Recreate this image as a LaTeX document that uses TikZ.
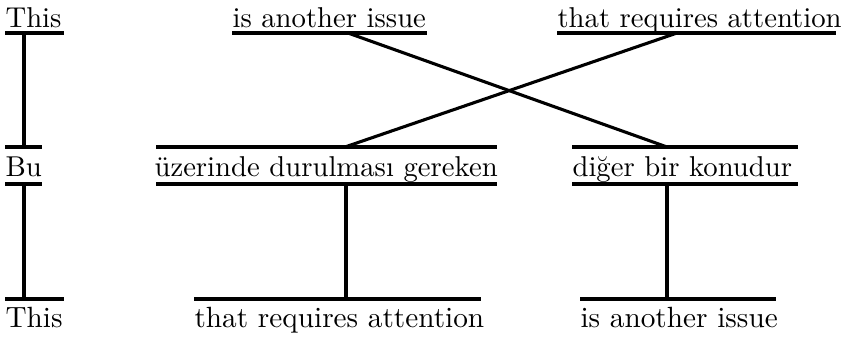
\documentclass[tikz,border=0pt]{standalone}
\usepackage{fontspec}
\begin{document}
\begin{tikzpicture}[x=0.3555pt,y=-0.3555pt,
  lbl/.style={anchor=base west, inner sep=0pt, font=\fontsize{10.2}{12}\selectfont},
  lblb/.style={lbl, font=\fontsize{10.4}{12}\selectfont},
  bar/.style={line width=1.1pt},
  link/.style={line width=1.1pt}]
\useasboundingbox (0,0) rectangle (841,338);
% labels
\node[lbl] (t1) at (5,27) {This};
\node[lbl] (t2) at (232,27) {is another issue};
\node[lbl] (t3) at (557,27) {that requires attention};
\node[lbl] (m1) at (5,176) {Bu};
\node[lbl] (m2) at (154,176) {üzerinde durulması gereken};
\node[lbl] (m3) at (572,176) {diğer bir konudur};
\node[lblb] (b1) at (5,327) {This};
\node[lblb] (b2) at (194,327) {that requires attention};
\node[lblb] (b3) at (580,327) {is another issue};
% bars
\draw[bar] (5,33) -- (64,33);
\draw[bar] (232,33) -- (427,33);
\draw[bar] (557,33) -- (836,33);
\draw[bar] (5,147) -- (42,147);
\draw[bar] (5,184) -- (42,184);
\draw[bar] (156,147) -- (497,147);
\draw[bar] (156,184) -- (497,184);
\draw[bar] (572,147) -- (798,147);
\draw[bar] (572,184) -- (798,184);
\draw[bar] (5,299) -- (64,299);
\draw[bar] (194,299) -- (481,299);
\draw[bar] (580,299) -- (776,299);
% attachment points
\coordinate (t1a) at (24,33);
\coordinate (t2a) at (348,33);
\coordinate (t3a) at (677,33);
\coordinate (m1t) at (24,147);
\coordinate (m1b) at (24,184);
\coordinate (m2t) at (345,147);
\coordinate (m2b) at (346,184);
\coordinate (m3t) at (667,147);
\coordinate (m3b) at (667,184);
\coordinate (b1a) at (24,299);
\coordinate (b2a) at (346,299);
\coordinate (b3a) at (667,299);
% connectors
\draw[link] (t1a) -- (m1t);
\draw[link] (t2a) -- (m3t);
\draw[link] (t3a) -- (m2t);
\draw[link] (m1b) -- (b1a);
\draw[link] (m2b) -- (b2a);
\draw[link] (m3b) -- (b3a);
\end{tikzpicture}
\end{document}
